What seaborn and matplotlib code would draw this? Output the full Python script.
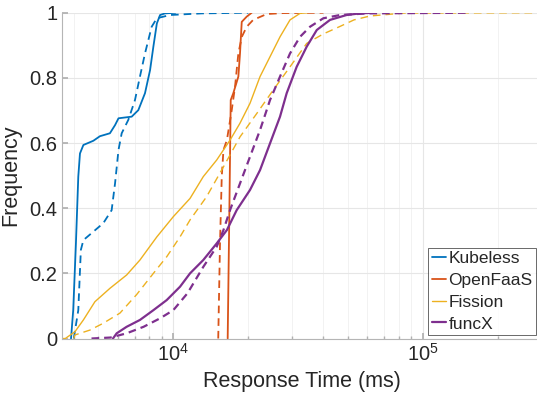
import numpy as np
import pandas as pd
import matplotlib
matplotlib.use('Agg')
import matplotlib.pyplot as plt
from matplotlib.lines import Line2D
import seaborn as sns

# CDF points (response time in ms, cumulative frequency)
kub_solid_x = [3890, 3970, 4070, 4160, 4225, 4360, 4780, 5080, 5570, 5840, 6030, 6810, 7240, 7700, 8070, 8320, 8590, 8850, 9260, 10200]
kub_solid_y = [0, 0.087, 0.292, 0.497, 0.568, 0.594, 0.607, 0.621, 0.630, 0.655, 0.676, 0.681, 0.701, 0.753, 0.824, 0.896, 0.967, 0.993, 0.998, 1.0]
kub_dash_x = [3990, 4160, 4260, 4360, 4780, 5240, 5660, 5840, 6030, 6210, 6600, 7020, 7350, 7700, 8190, 8590, 9700, 13000, 20000]
kub_dash_y = [0, 0.087, 0.272, 0.302, 0.328, 0.354, 0.394, 0.476, 0.579, 0.630, 0.671, 0.732, 0.804, 0.875, 0.957, 0.983, 0.993, 0.998, 1.0]

ofs_solid_x = [16520, 16780, 16990, 17400, 18230, 18510, 18810, 19690, 20620]
ofs_solid_y = [0, 0.394, 0.732, 0.753, 0.804, 0.875, 0.972, 0.988, 1.0]
ofs_dash_x = [15140, 15390, 15640, 15890, 16400, 17150, 17680, 18230, 18820, 19690, 20900, 23690, 27600, 40000]
ofs_dash_y = [0, 0.292, 0.497, 0.579, 0.609, 0.701, 0.773, 0.875, 0.926, 0.957, 0.978, 0.996, 0.999, 1.0]

fis_solid_x = [3580, 3690, 4035, 4360, 4850, 5570, 6500, 7350, 8590, 10000, 11670, 13190, 14930, 16880, 18510, 20300, 22270, 24420, 26780, 29370, 32200, 34500]
fis_solid_y = [0, 0, 0.021, 0.057, 0.113, 0.154, 0.195, 0.241, 0.312, 0.374, 0.430, 0.497, 0.548, 0.609, 0.661, 0.722, 0.804, 0.865, 0.926, 0.978, 0.998, 1.0]
fis_dash_x = [3990, 4035, 4635, 5240, 6110, 7130, 8320, 9410, 10640, 11670, 13590, 15890, 18510, 21620, 25170, 29370, 34270, 39950, 46600, 53000, 61500, 84000, 290000]
fis_dash_y = [0, 0.011, 0.026, 0.047, 0.078, 0.135, 0.200, 0.251, 0.312, 0.364, 0.435, 0.527, 0.619, 0.691, 0.763, 0.834, 0.906, 0.935, 0.958, 0.978, 0.990, 0.999, 1.0]

fx_solid_x = [5730, 5930, 6500, 7350, 8320, 9410, 10640, 11670, 13190, 14930, 16400, 17950, 20300, 22270, 24420, 26780, 28480, 31230, 34270, 37600, 42490, 49500, 56000, 63000]
fx_solid_y = [0, 0.016, 0.036, 0.057, 0.087, 0.118, 0.159, 0.200, 0.241, 0.292, 0.333, 0.394, 0.456, 0.517, 0.599, 0.681, 0.753, 0.834, 0.896, 0.947, 0.978, 0.993, 0.998, 1.0]
fx_dash_x = [4700, 5600, 6500, 7600, 8850, 10000, 11400, 13190, 14930, 15890, 16880, 18510, 20300, 22270, 24420, 26780, 29370, 32210, 35330, 39950, 46600, 60000, 155000]
fx_dash_y = [0, 0.003, 0.016, 0.036, 0.062, 0.087, 0.139, 0.220, 0.282, 0.333, 0.394, 0.476, 0.558, 0.640, 0.732, 0.804, 0.875, 0.926, 0.957, 0.983, 0.993, 0.998, 1.0]

labels = ['Kubeless', 'OpenFaaS', 'Fission', 'funcX']
colors = ['#0072BD', '#D95319', '#EDB120', '#7E2F8E']
widths = [1.3, 1.3, 1.0, 1.6]

sns.set_theme(style='ticks')
plt.rcParams['font.family'] = ['Liberation Sans', 'DejaVu Sans']
plt.rcParams['mathtext.fontset'] = 'custom'
plt.rcParams['mathtext.rm'] = 'Liberation Sans'
plt.rcParams['mathtext.it'] = 'Liberation Sans'
plt.rcParams['lines.scale_dashes'] = False

fig = plt.figure(figsize=(5.37, 4.03), dpi=100)
ax = fig.add_axes([0.1155, 0.16, 0.892, 0.8084])

series = [
    (kub_solid_x, kub_solid_y, kub_dash_x, kub_dash_y),
    (ofs_solid_x, ofs_solid_y, ofs_dash_x, ofs_dash_y),
    (fis_solid_x, fis_solid_y, fis_dash_x, fis_dash_y),
    (fx_solid_x, fx_solid_y, fx_dash_x, fx_dash_y),
]
for (sx, sy, dx, dy), c, w in zip(series, colors, widths):
    sns.lineplot(x=sx, y=sy, color=c, lw=w, sort=False, estimator=None, ax=ax)
    sns.lineplot(x=dx, y=dy, color=c, lw=w, sort=False, estimator=None, ax=ax,
                 dashes=False, linestyle=(0, (5.5, 3.6)))

ax.set_xscale('log')
ax.set_xlim(3580, 2.98e5)
ax.set_ylim(0, 1)
ax.set_yticks([0, 0.2, 0.4, 0.6, 0.8, 1])
ax.set_yticklabels(['0', '0.2', '0.4', '0.6', '0.8', '1'])
ax.set_xticks([1e4, 1e5])
ax.set_xticklabels([r'$10^4$', r'$10^5$'])

ax.grid(True, which='major', color='#e6e6e6', lw=0.8)
ax.grid(True, which='minor', axis='x', color='#f0f0f0', lw=0.6)
ax.set_axisbelow(True)
ax.tick_params(axis='both', which='both', direction='in', colors='#b0b0b0',
               labelcolor='#262626', labelsize=14.5)
ax.tick_params(which='major', length=4)
ax.tick_params(which='minor', length=2.5)
for s in ['top', 'right']:
    ax.spines[s].set_visible(False)
for s in ['left', 'bottom']:
    ax.spines[s].set_color('#b5b5b5')
    ax.spines[s].set_linewidth(0.8)

ax.set_xlabel('Response Time (ms)', fontsize=15.5, color='#262626', labelpad=4)
ax.set_ylabel('Frequency', fontsize=15.5, color='#262626', labelpad=6)

handles = [Line2D([0], [0], color=c, lw=w) for c, w in zip(colors, widths)]
leg = ax.legend(handles, labels, loc='lower right', bbox_to_anchor=(536 / 537, 68 / 403),
                bbox_transform=fig.transFigure, fontsize=12.5, frameon=True, fancybox=False,
                handlelength=0.8, handletextpad=0.15, borderpad=0.2, labelspacing=0.38,
                borderaxespad=0)
leg.get_frame().set_edgecolor('#262626')
leg.get_frame().set_linewidth(0.6)

fig.savefig('out.png', dpi=100)
